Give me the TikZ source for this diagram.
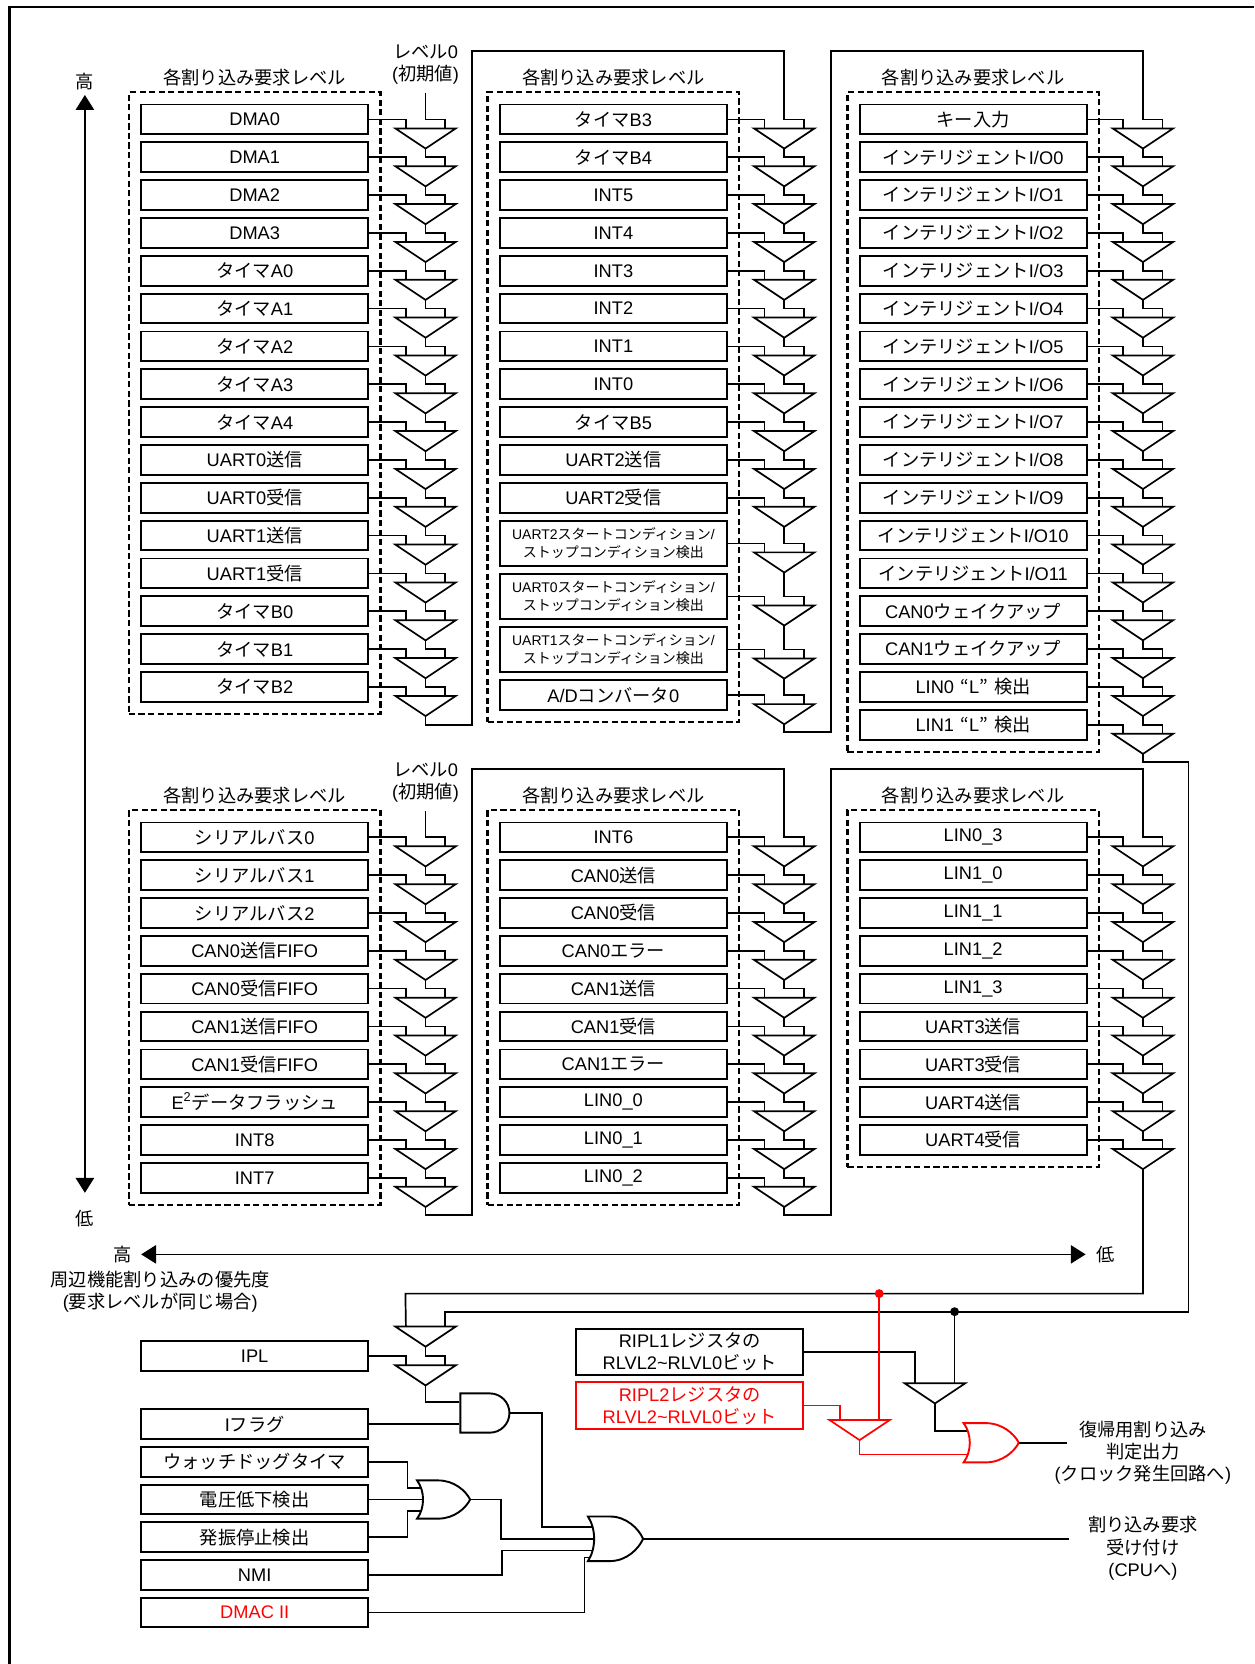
\documentclass[tikz,border=0pt]{standalone}
\usepackage{fontspec}
\setmainfont{Liberation Sans}
\newfontfamily\latinfont{Liberation Sans}
\newfontfamily\jpfont{Noto Sans CJK JP}
\usepackage{tikz}
\usetikzlibrary{positioning, calc, fit, arrows.meta, shapes.gates.logic.US}

% Japanese runs switch to the CJK font on their own
\XeTeXinterchartokenstate=1
\newcount\jpcode
\newcommand{\setjpclass}[2]{\jpcode=#1 \loop\XeTeXcharclass\jpcode=7 \advance\jpcode by 1 \ifnum\jpcode<#2\repeat}
\setjpclass{"3000}{"3100}
\setjpclass{"4E00}{"A000}
\setjpclass{"FF00}{"FFF0}
\XeTeXcharclass"201C=7 \XeTeXcharclass"201D=7
\XeTeXinterchartoks 0 7 = {\jpfont}
\XeTeXinterchartoks 4095 7 = {\jpfont}
\XeTeXinterchartoks 7 0 = {\latinfont}
\XeTeXinterchartoks 7 4095 = {\latinfont}

\definecolor{hotred}{RGB}{255, 0, 0}
\definecolor{linecol}{RGB}{0, 0, 0}

\tikzset{
    reqbox/.style={
        rectangle,
        draw=linecol,
        line width=0.9pt,
        minimum width=107pt,
        minimum height=14pt,
        inner sep=0pt,
        align=center,
        font=\fontsize{8.6}{10.5}\selectfont
    },
    reqbox2/.style={reqbox, minimum height=21pt, font=\fontsize{6.6}{8.4}\selectfont},
    regbox/.style={reqbox, minimum height=22pt},
    grp/.style={draw=linecol, line width=1.1pt, dash pattern=on 2.9pt off 1.6pt, inner sep=5.3pt},
    wire/.style={line width=0.8pt, color=linecol},
    lbl/.style={align=center, inner sep=0pt, font=\fontsize{8.6}{10.5}\selectfont},
    prio/.style={line width=0.8pt, {Triangle[width=8.6pt,length=7pt]}-{Triangle[width=8.6pt,length=7pt]}},
    andbox/.style={and gate US, draw, line width=0.9pt, minimum width=22.5pt, minimum height=18.5pt, inner sep=0pt, logic gate inputs=nn},
    dot/.style={circle, fill, inner sep=0pt, minimum size=4.2pt},
    cmp/.pic={
        \draw[line width=0.8pt] (-28.5,8.5) -- (28.5,8.5) -- (0,27.5) -- cycle;
        \coordinate (-t) at (0,0);
        \coordinate (-l) at (-18.5,8.5);
        \coordinate (-r) at (18.5,8.5);
        \coordinate (-o) at (0,27.5);
    },
    % OR gate: width / half height, origin at the tips of the back
    pics/orgate/.style args={#1/#2}{code={
        \draw[line width=0.9pt, fill=white] (0,-#2) .. controls (0.15*#1,-0.45*#2) and (0.15*#1,0.45*#2) .. (0,#2)
            -- (0.4*#1,#2) .. controls (0.7*#1,#2) and (0.92*#1,0.45*#2) .. (#1,0)
            .. controls (0.92*#1,-0.45*#2) and (0.7*#1,-#2) .. (0.4*#1,-#2) -- cycle;
        \coordinate (-o) at (#1,0);
    }}
}

% box -> comparator wires of one column (#1 prefix, #2 last row)
\newcommand{\wirechain}[2]{%
    \foreach \k in {0,...,#2}{\draw[wire] (#1b\k.east) -| (#1c\k-l);}
    \foreach \k in {1,...,#2}{\pgfmathtruncatemacro\j{\k-1}\draw[wire] (#1c\j-o) -- (#1c\k-t) -| (#1c\k-r);}
}

\begin{document}
\begin{tikzpicture}[x=0.5pt, y=-0.5pt]
        \useasboundingbox (0,0) rectangle (1182,1568);
        \draw[line width=1.2pt] (9,1568) -- (9,6.5) -- (1182,6.5);

        % --- upper group ---
        \foreach \t [count=\k from 0] in {DMA0, DMA1, DMA2, DMA3, タイマA0, タイマA1, タイマA2, タイマA3, タイマA4, UART0送信, UART0受信, UART1送信, UART1受信, タイマB0, タイマB1, タイマB2} {
            \node (u1b\k) [reqbox] at (240, 112.5+35.65*\k) {\t};
            \pic (u1c\k) at (401, 112.5+35.65*\k) {cmp};
        }
        \foreach \t [count=\k from 0] in {タイマB3, タイマB4, INT5, INT4, INT3, INT2, INT1, INT0, タイマB5, UART2送信, UART2受信} {
            \node (u2b\k) [reqbox] at (578, 112.5+35.65*\k) {\t};
            \pic (u2c\k) at (739, 112.5+35.65*\k) {cmp};
        }
        \node (u2b11) [reqbox2] at (578,512) {UART2スタートコンディション/\\ストップコンディション検出};
        \node (u2b12) [reqbox2] at (578,562) {UART0スタートコンディション/\\ストップコンディション検出};
        \node (u2b13) [reqbox2] at (578,612) {UART1スタートコンディション/\\ストップコンディション検出};
        \node (u2b14) [reqbox] at (578,655) {A/Dコンバータ0};
        \pic (u2c11) at (739,512) {cmp};
        \pic (u2c12) at (739,562) {cmp};
        \pic (u2c13) at (739,612) {cmp};
        \pic (u2c14) at (739,655) {cmp};
        \foreach \t [count=\k from 0] in {キー入力, インテリジェントI/O0, インテリジェントI/O1, インテリジェントI/O2, インテリジェントI/O3, インテリジェントI/O4, インテリジェントI/O5, インテリジェントI/O6, インテリジェントI/O7, インテリジェントI/O8, インテリジェントI/O9, インテリジェントI/O10, インテリジェントI/O11, CAN0ウェイクアップ, CAN1ウェイクアップ, LIN0\kern3pt“L”\kern3pt検出, LIN1\kern3pt“L”\kern3pt検出} {
            \node (u3b\k) [reqbox] at (917, 112.5+35.65*\k) {\t};
            \pic (u3c\k) at (1077, 112.5+35.65*\k) {cmp};
        }
        \node (u1g) [grp, fit=(u1b0)(u1b15)] {};
        \node (u2g) [grp, fit=(u2b0)(u2b14)] {};
        \node (u3g) [grp, fit=(u3b0)(u3b16)] {};
        \node (u1h) [lbl, above=2pt of u1g] {各割り込み要求レベル};
        \node (u2h) [lbl, above=2pt of u2g] {各割り込み要求レベル};
        \node (u3h) [lbl, above=2pt of u3g] {各割り込み要求レベル};
        \node (u0lbl) [lbl] at (401,61) {レベル0\\(初期値)};
        \coordinate (u0in) at (401,88);
        \coordinate (u1turn) at (445,48);
        \coordinate (u2turn) at (783,48);

        \wirechain{u1}{15}
        \wirechain{u2}{14}
        \wirechain{u3}{16}
        \draw[wire] (u0in) -- (u1c0-t) -| (u1c0-r);
        \draw[wire] (u1c15-o) -- ++(0,8.5) -| (u1turn) -| (u2c0-t) -| (u2c0-r);
        \draw[wire] (u2c14-o) -- ++(0,7.5) -| (u2turn) -| (u3c0-t) -| (u3c0-r);

        % --- lower group ---
        \foreach \t [count=\k from 0] in {シリアルバス0, シリアルバス1, シリアルバス2, CAN0送信FIFO, CAN0受信FIFO, CAN1送信FIFO, CAN1受信FIFO, {E\textsuperscript{2}データフラッシュ}, INT8, INT7} {
            \node (l1b\k) [reqbox] at (240, 789+35.65*\k) {\t};
            \pic (l1c\k) at (401, 789+35.65*\k) {cmp};
        }
        \foreach \t [count=\k from 0] in {INT6, CAN0送信, CAN0受信, CAN0エラー, CAN1送信, CAN1受信, CAN1エラー, LIN0\_0, LIN0\_1, LIN0\_2} {
            \node (l2b\k) [reqbox] at (578, 789+35.65*\k) {\t};
            \pic (l2c\k) at (739, 789+35.65*\k) {cmp};
        }
        \foreach \t [count=\k from 0] in {LIN0\_3, LIN1\_0, LIN1\_1, LIN1\_2, LIN1\_3, UART3送信, UART3受信, UART4送信, UART4受信} {
            \node (l3b\k) [reqbox] at (917, 789+35.65*\k) {\t};
            \pic (l3c\k) at (1077, 789+35.65*\k) {cmp};
        }
        \node (l1g) [grp, fit=(l1b0)(l1b9)] {};
        \node (l2g) [grp, fit=(l2b0)(l2b9)] {};
        \node (l3g) [grp, fit=(l3b0)(l3b8)] {};
        \node (l1h) [lbl, above=2pt of l1g] {各割り込み要求レベル};
        \node (l2h) [lbl, above=2pt of l2g] {各割り込み要求レベル};
        \node (l3h) [lbl, above=2pt of l3g] {各割り込み要求レベル};
        \node (l0lbl) [lbl] at (401,737.5) {レベル0\\(初期値)};
        \coordinate (l0in) at (401,764.5);
        \coordinate (l1turn) at (445,724.5);
        \coordinate (l2turn) at (783,724.5);

        \wirechain{l1}{9}
        \wirechain{l2}{9}
        \wirechain{l3}{8}
        \draw[wire] (l0in) -- (l1c0-t) -| (l1c0-r);
        \draw[wire] (l1c9-o) -- ++(0,7.5) -| (l1turn) -| (l2c0-t) -| (l2c0-r);
        \draw[wire] (l2c9-o) -- ++(0,7.5) -| (l2turn) -| (l3c0-t) -| (l3c0-r);

        % --- priority arrows ---
        \node (hi1) [lbl] at (80,77) {高};
        \node (lo1) [lbl] at (80,1148) {低};
        \coordinate (vtop) at (80,89.5);
        \coordinate (vbot) at (80,1124);
        \draw[prio] (vtop) -- (vbot);
        \node (hi2) [lbl] at (116,1182) {高};
        \node (lo2) [lbl] at (1042,1182) {低};
        \draw[prio] ([xshift=4pt]hi2.east) -- ([xshift=-5pt]lo2.west);
        \node (priotxt) [lbl] at (151,1217) {周辺機能割り込みの優先度\\(要求レベルが同じ場合)};

        % --- bottom logic ---
        \node (ipl) [reqbox] at (240,1278) {IPL};
        \node (iflag) [reqbox] at (240,1342) {Iフラグ};
        \node (wdt) [reqbox] at (240,1377.5) {ウォッチドッグタイマ};
        \node (lvd) [reqbox] at (240,1413) {電圧低下検出};
        \node (osc) [reqbox] at (240,1448.5) {発振停止検出};
        \node (nmi) [reqbox] at (240,1484) {NMI};
        \node (dmac) [reqbox, text=hotred] at (240,1519.5) {DMAC II};

        \pic (ipc) at (401,1241.5) {cmp};
        \pic (ipc2) at (401,1278) {cmp};
        \coordinate (loturn) at (382,1219);
        \coordinate (hiturn) at (1120,1236);
        \draw[wire] (l3c8-o) |- (loturn) -- (ipc-l);
        \draw[wire] (u3c16-o) -- ++(0,7.5) -| (hiturn) -| (ipc-r);
        \draw[wire] (ipl.east) -| (ipc2-l);
        \draw[wire] (ipc-o) -- (ipc2-t) -| (ipc2-r);

        \node (and1) [andbox, anchor=west] at ($(iflag.east)+(85,-10.5)$) {};
        \coordinate (or1b) at (393,1413);
        \coordinate (or2b) at (554,1450);
        \draw[wire] (ipc2-o) |- ([yshift=5.25pt]and1.west);
        \draw[wire] (iflag.east) -- (iflag.east -| and1.west);
        \draw[wire] (wdt.east) -- ++(36,0) |- ($(or1b)+(7,-11)$);
        \draw[wire] (lvd.east) -- ($(or1b)+(7,0)$);
        \draw[wire] (osc.east) -- ++(36,0) |- ($(or1b)+(7,11)$);
        \pic (or1) at (or1b) {orgate=50/18};
        \draw[wire] (and1.east) -- ++(30,0) |- ($(or2b)+(7,-11)$);
        \draw[wire] (or1-o) -- ++(29,0) |- ($(or2b)+(7,0)$);
        \draw[wire] (nmi.east) -- ++(125,0) |- ($(or2b)+(7,11)$);
        \draw[wire] (dmac.east) -- ++(203,0) |- ($(or2b)+(7,17.5)$);
        \pic (or2) at (or2b) {orgate=52/21};
        \node (ackout) [lbl] at (1077,1459) {割り込み要求\\受け付け\\(CPUへ)};
        \draw[wire] (or2-o) -- ++(401,0);

        % --- wake-up decision ---
        \node (ripl1) [regbox] at (650,1274) {RIPL1レジスタの\\RLVL2\textasciitilde RLVL0ビット};
        \node (ripl2) [regbox, draw=hotred, text=hotred] at (650,1324.5) {RIPL2レジスタの\\RLVL2\textasciitilde RLVL0ビット};
        \pic (rc1) at (881,1295) {cmp};
        \pic[hotred] (rc2) at (810,1329.5) {cmp};
        \coordinate (bdot) at (rc1-r |- hiturn);
        \coordinate (rdot) at (rc2-r |- loturn);
        \coordinate (or3b) at (908,1359.5);
        \draw[wire] (ripl1.east) -| (rc1-l);
        \draw[wire] (bdot) -- (rc1-r);
        \draw[wire, hotred] (ripl2.east) -| (rc2-l);
        \draw[wire, hotred] (rdot) -- (rc2-r);
        \draw[wire] (rc1-o) |- ($(or3b)+(7,-11)$);
        \draw[wire, hotred] (rc2-o) |- ($(or3b)+(7,11)$);
        \pic[hotred] (or3) at (or3b) {orgate=52/18.5};
        \draw[wire] (or3-o) -- ++(45,0);
        \node[dot] at (bdot) {};
        \node[dot, hotred] at (rdot) {};
        \node (wakeout) [lbl] at (1077,1369) {復帰用割り込み\\判定出力\\(クロック発生回路へ)};
\end{tikzpicture}
\end{document}
